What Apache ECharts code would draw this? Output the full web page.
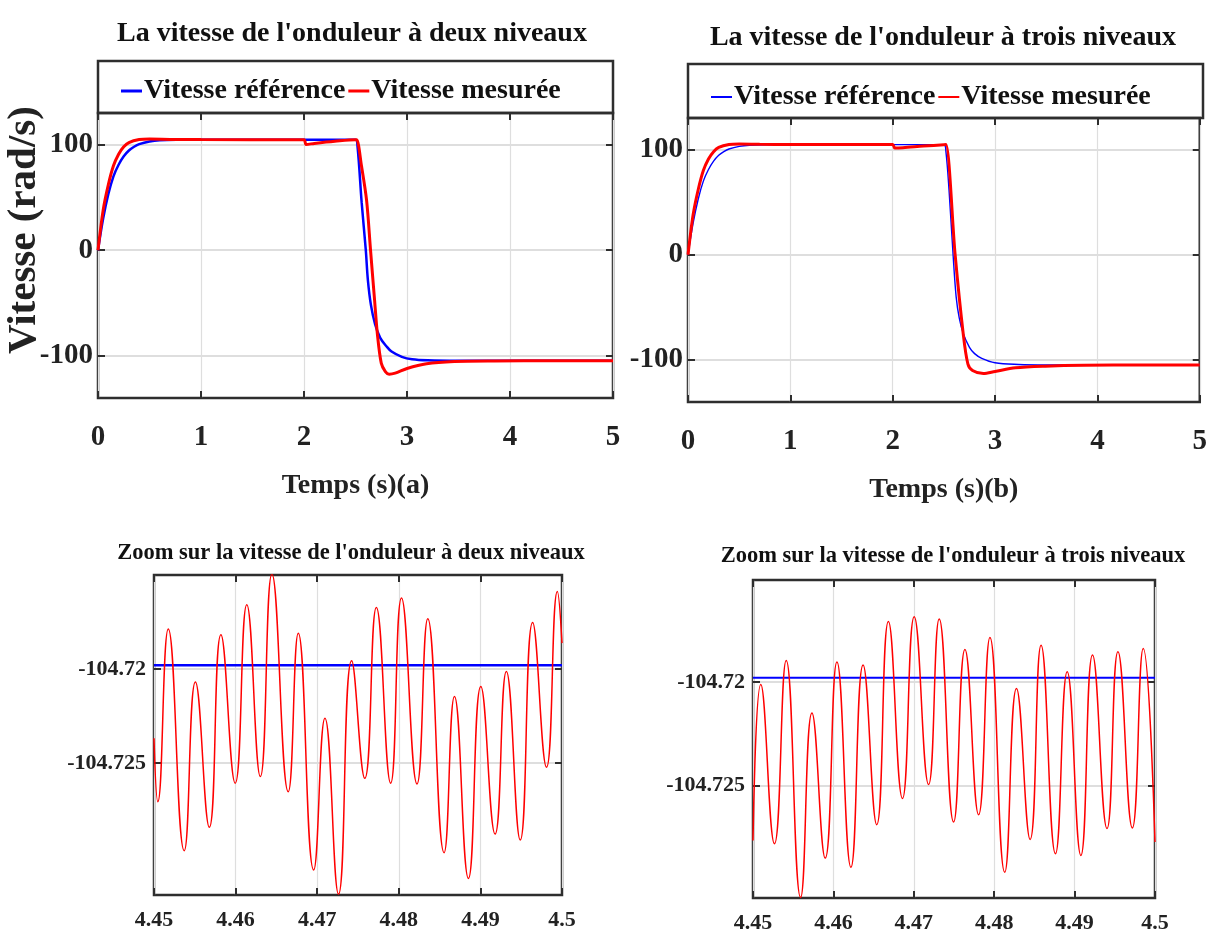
<!DOCTYPE html>
<html>
<head>
<meta charset="utf-8">
<script src="https://cdn.jsdelivr.net/npm/echarts@6/dist/echarts.min.js"></script>
<style>
html,body{margin:0;padding:0;background:#fff;}
#chart{width:1210px;height:940px;}
</style>
</head>
<body>
<div id="chart"></div>
<script>
// ---------------- DATA ----------------
const titleA = "La vitesse de l'onduleur à deux niveaux";
const titleB = "La vitesse de l'onduleur à trois niveaux";
const titleC = "Zoom sur la vitesse de l'onduleur à deux niveaux";
const titleD = "Zoom sur la vitesse de l'onduleur à trois niveaux";
const seriesNames = ["Vitesse référence", "Vitesse mesurée"];
const xNameA = "Temps (s)(a)";
const xNameB = "Temps (s)(b)";
const yNameTop = "Vitesse (rad/s)";

const topXTicks = [0, 1, 2, 3, 4, 5];
const topYTicks = [-100, 0, 100];
const zoomXTicks = [4.45, 4.46, 4.47, 4.48, 4.49, 4.5];
const zoomYTicks = [-104.725, -104.72];

// (a) two-level inverter
const timeRefA = [0,0.05,0.1,0.15,0.2,0.25,0.3,0.35,0.4,0.5,0.6,0.8,1.0,2.0,2.5,2.52,2.56,2.6,2.62,2.65,2.69,2.74,2.8,2.85,2.95,3.05,3.2,3.5,5.0];
const refA     = [0,30,53,70,81,89,94.5,98,100.5,103,104.1,104.6,104.72,104.72,104.72,98,45,0,-28,-52,-70,-83,-91,-96,-101,-103.3,-104.3,-104.7,-104.72];
const timeMesA = [0,0.05,0.1,0.15,0.2,0.25,0.3,0.4,0.5,0.7,1.0,2.0,2.02,2.1,2.3,2.5,2.512,2.558,2.608,2.646,2.685,2.712,2.75,2.79,2.827,2.885,3.0,3.19,3.46,3.85,4.42,5.0];
const mesA     = [0,38,62,80,91,98,102,104.8,105.3,105,104.8,104.72,100.2,101.2,103.2,104.7,104.7,80,47,0,-47,-79,-107,-115,-117.5,-116.5,-112,-107.5,-105.4,-104.85,-104.72,-104.72];

// (b) three-level inverter
const timeRefB = [0,0.05,0.1,0.15,0.2,0.25,0.3,0.35,0.4,0.5,0.6,0.8,1.0,2.0,2.5,2.52,2.55,2.59,2.62,2.65,2.69,2.75,2.8,2.87,3.0,3.23,3.5,5.0];
const refB     = [0,30,53,70,81,89,94.5,98,100.5,103,104.1,104.6,104.72,104.72,104.72,98,62,0,-40,-60,-75,-88,-94,-98.5,-102.7,-104.3,-104.7,-104.72];
const timeMesB = [0,0.05,0.1,0.15,0.2,0.25,0.3,0.4,0.5,0.7,1.0,2.0,2.02,2.1,2.3,2.5,2.52,2.61,2.69,2.735,2.78,2.886,3.0,3.2,3.49,3.87,4.44,5.0];
const mesB     = [0,38,62,80,91,98,102,104.8,105.3,105,104.8,104.72,101.5,101.8,103.3,104.6,104.7,0,-76,-104,-110,-113,-111,-107.5,-105.9,-105,-104.75,-104.72];

// (c) zoom, two-level
const timeZoomRefC = [4.45, 4.5];
const zoomRefC     = [-104.7198, -104.7198];
const timeZoomMesC = [4.45,4.45047,4.45175,4.4537,4.45507,4.45678,4.4582,4.45995,4.46137,4.46303,4.46445,4.46645,4.46768,4.46957,4.47095,4.47261,4.47422,4.47583,4.47725,4.479,4.48033,4.48223,4.48355,4.48555,4.48682,4.48853,4.49005,4.4918,4.49318,4.49488,4.4964,4.4981,4.49943,4.5];
const zoomMesC     = [-104.72367,-104.72704,-104.71787,-104.72965,-104.72069,-104.7284,-104.71817,-104.72606,-104.71658,-104.72571,-104.71495,-104.72651,-104.71809,-104.73067,-104.72261,-104.73195,-104.71956,-104.7258,-104.71672,-104.72606,-104.71622,-104.7261,-104.71732,-104.72975,-104.72145,-104.73112,-104.72092,-104.72876,-104.72012,-104.72908,-104.71752,-104.72521,-104.71587,-104.71862];

// (d) zoom, three-level
const timeZoomRefD = [4.45, 4.5];
const zoomRefD     = [-104.7198, -104.7198];
const timeZoomMesD = [4.45,4.45097,4.45267,4.45413,4.45592,4.45733,4.45898,4.46044,4.46218,4.46369,4.46539,4.46684,4.46859,4.47005,4.47184,4.47316,4.47495,4.47636,4.47806,4.47947,4.48131,4.48277,4.48447,4.48583,4.48762,4.48908,4.49078,4.49223,4.49403,4.49539,4.49718,4.49854,4.5];
const zoomMesD     = [-104.72763,-104.72013,-104.72779,-104.71897,-104.73037,-104.7215,-104.72848,-104.71905,-104.72892,-104.71919,-104.72687,-104.7171,-104.72561,-104.71687,-104.72494,-104.71698,-104.72674,-104.71844,-104.72639,-104.71787,-104.72916,-104.72032,-104.72758,-104.71824,-104.72827,-104.71952,-104.72835,-104.71871,-104.72706,-104.71855,-104.72703,-104.7184,-104.72771];

// ---------------- CHART ----------------
const FONT = "'Liberation Serif','Times New Roman',serif";
const BLUE = '#0000ff', RED = '#ff0000', BOX = '#2e2e2e', GRID = '#dedede';
const pairs = (t, v) => t.map((x, i) => [x, v[i]]);

const grids = [
  {left: 98,  top: 113, width: 515, height: 285},
  {left: 688, top: 118, width: 515, height: 284},
  {left: 154, top: 575, width: 408, height: 320},
  {left: 753, top: 580, width: 402, height: 318}
].map(g => Object.assign({show: true, borderColor: BOX, borderWidth: 2.5, backgroundColor: 'transparent'}, g));

const axisRanges = [
  {xmin: 0, xmax: 5, xt: topXTicks, ymin: -140, ymax: 130, yt: topYTicks, fs: 29, xname: xNameA, ylm: 5, xlm: 25},
  {xmin: 0, xmax: 5, xt: topXTicks, ymin: -140, ymax: 130, yt: topYTicks, fs: 29, xname: xNameB, ylm: 5, xlm: 25},
  {xmin: 4.45, xmax: 4.5, xt: zoomXTicks, ymin: -104.732, ymax: -104.715, yt: zoomYTicks, fs: 22, xname: '', ylm: 8, xlm: 14},
  {xmin: 4.45, xmax: 4.5, xt: zoomXTicks, ymin: -104.7304, ymax: -104.7151, yt: zoomYTicks, fs: 22, xname: '', ylm: 8, xlm: 14}
];

const xAxes = [], yAxes = [];
axisRanges.forEach((r, i) => {
  const labelStyle = {fontFamily: FONT, fontWeight: 'bold', fontSize: r.fs, color: '#222'};
  const tick = (vals) => ({show: true, inside: true, length: 7, customValues: vals, lineStyle: {color: BOX, width: 2}});
  xAxes.push({
    type: 'value', gridIndex: i, min: r.xmin, max: r.xmax, position: 'bottom',
    axisLine: {show: false, onZero: false},
    axisTick: tick(r.xt),
    axisLabel: Object.assign({show: true, customValues: r.xt, margin: r.xlm, showMinLabel: true, showMaxLabel: true}, labelStyle),
    splitLine: {show: true, lineStyle: {color: GRID, width: 1.2}},
    name: r.xname, nameLocation: 'middle', nameGap: 74,
    nameTextStyle: {fontFamily: FONT, fontWeight: 'bold', fontSize: 28, color: '#222'}
  });
  xAxes.push({
    type: 'value', gridIndex: i, min: r.xmin, max: r.xmax, position: 'top',
    axisLine: {show: false, onZero: false},
    axisTick: tick(r.xt),
    axisLabel: {show: false}, splitLine: {show: false}
  });
  yAxes.push({
    type: 'value', gridIndex: i, min: r.ymin, max: r.ymax, position: 'left',
    axisLine: {show: false, onZero: false},
    axisTick: tick(r.yt),
    axisLabel: Object.assign({show: true, customValues: r.yt, margin: r.ylm}, labelStyle),
    splitLine: {show: true, lineStyle: {color: GRID, width: 2}}
  });
  yAxes.push({
    type: 'value', gridIndex: i, min: r.ymin, max: r.ymax, position: 'right',
    axisLine: {show: false, onZero: false},
    axisTick: tick(r.yt),
    axisLabel: {show: false}, splitLine: {show: false}
  });
});

function line(name, gi, data, color, width, smooth) {
  return {
    type: 'line', name: name, xAxisIndex: gi * 2, yAxisIndex: gi * 2, data: data,
    showSymbol: false, symbol: 'none', smooth: smooth, clip: true,
    lineStyle: {color: color, width: width}, itemStyle: {color: color}, animation: false
  };
}

const series = [
  line(seriesNames[0], 0, pairs(timeRefA, refA), BLUE, 2.5, 0.35),
  line(seriesNames[1], 0, pairs(timeMesA, mesA), RED, 3, 0.3),
  line(seriesNames[0], 1, pairs(timeRefB, refB), BLUE, 1.4, 0.35),
  line(seriesNames[1], 1, pairs(timeMesB, mesB), RED, 3, 0.3),
  line(seriesNames[0], 2, pairs(timeZoomRefC, zoomRefC), BLUE, 2.5, false),
  line(seriesNames[1], 2, pairs(timeZoomMesC, zoomMesC), RED, 1.5, 0.5),
  line(seriesNames[0], 3, pairs(timeZoomRefD, zoomRefD), BLUE, 2, false),
  line(seriesNames[1], 3, pairs(timeZoomMesD, zoomMesD), RED, 1.5, 0.5)
];

const titleStyle = (size) => ({fontFamily: FONT, fontWeight: 'bold', fontSize: size, color: '#111'});
const option = {
  backgroundColor: '#fff',
  animation: false,
  title: [
    {text: titleA, left: 352, top: 20, textAlign: 'center', textStyle: titleStyle(28), padding: 0},
    {text: titleB, left: 943, top: 24, textAlign: 'center', textStyle: titleStyle(28), padding: 0},
    {text: titleC, left: 351, top: 542, textAlign: 'center', textStyle: titleStyle(22.5), padding: 0},
    {text: titleD, left: 953, top: 545, textAlign: 'center', textStyle: titleStyle(22.5), padding: 0}
  ],
  legend: [
    {data: seriesNames, left: 121, top: 77, icon: 'rect', itemWidth: 21, itemHeight: 3, itemGap: 3, padding: 0,
     textStyle: {fontFamily: FONT, fontWeight: 'bold', fontSize: 28, color: '#111', padding: [0,0,0,-3]}, selectedMode: false},
    {data: seriesNames, left: 711, top: 83, icon: 'rect', itemWidth: 21, itemHeight: 2, itemGap: 3, padding: 0,
     textStyle: {fontFamily: FONT, fontWeight: 'bold', fontSize: 28, color: '#111', padding: [0,0,0,-3]}, selectedMode: false}
  ],
  graphic: [
    {type: 'rect', shape: {x: 98, y: 61, width: 515, height: 52}, style: {fill: 'none', stroke: BOX, lineWidth: 2.5}, z: 10},
    {type: 'rect', shape: {x: 688, y: 64, width: 515, height: 54}, style: {fill: 'none', stroke: BOX, lineWidth: 2.5}, z: 10},
    {type: 'text', x: 24, y: 230, rotation: Math.PI / 2,
     style: {text: yNameTop, fontFamily: FONT, fontWeight: 'bold', fontSize: 41, fill: '#222', textAlign: 'center', textVerticalAlign: 'middle'}}
  ],
  grid: grids,
  xAxis: xAxes,
  yAxis: yAxes,
  series: series
};

const chart = echarts.init(document.getElementById('chart'), null, {renderer: 'canvas'});
chart.setOption(option);
</script>
</body>
</html>
